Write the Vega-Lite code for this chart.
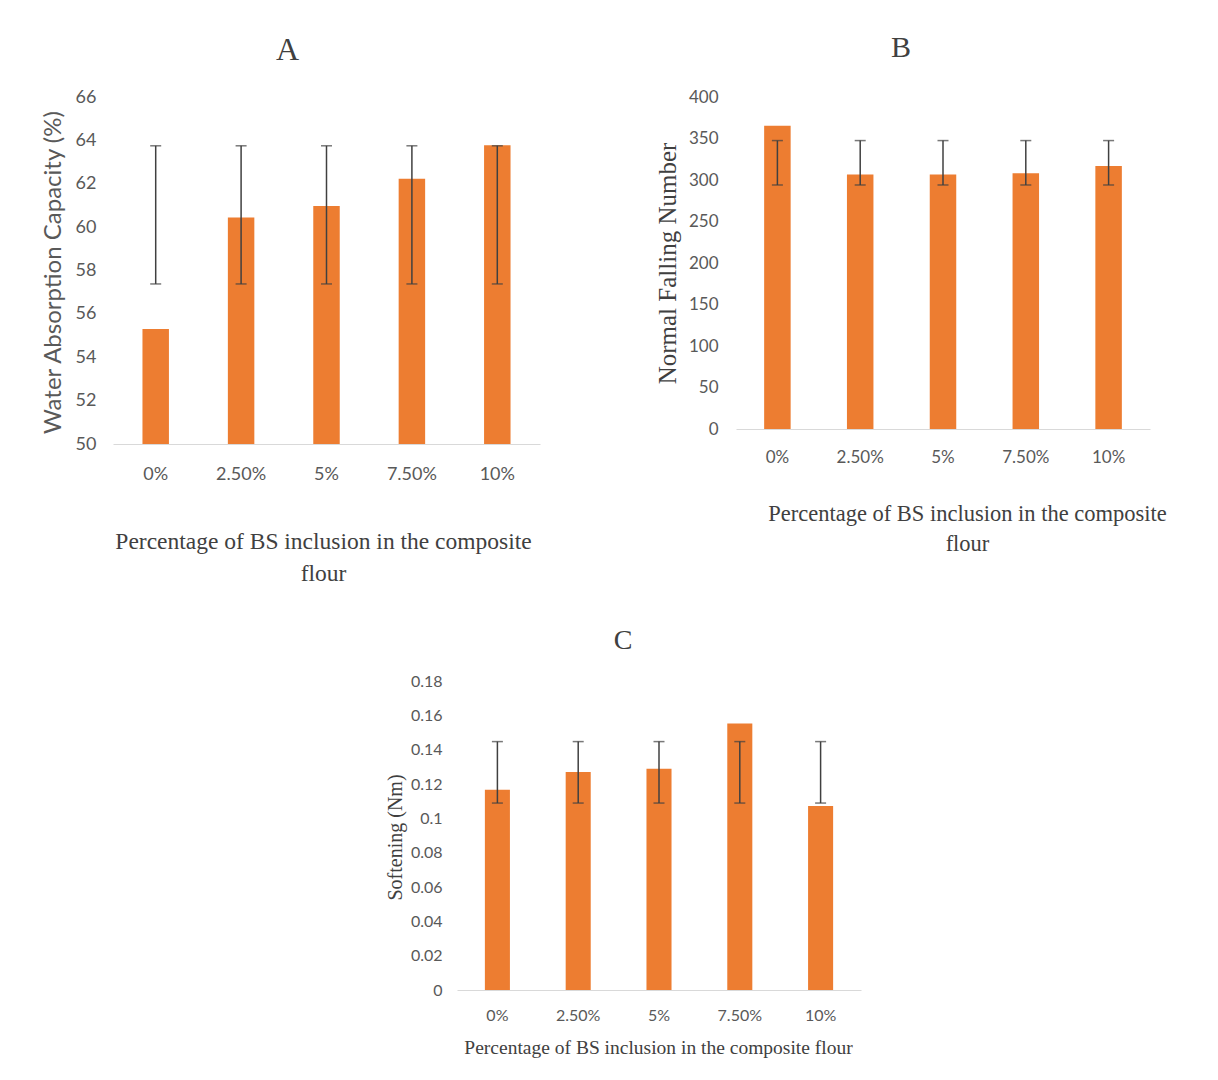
{
  "$schema": "https://vega.github.io/schema/vega-lite/v6.json",
  "padding": {"left": 41, "top": 33, "right": 5, "bottom": 5},
  "background": "white",
  "config": {
    "view": {"stroke": null},
    "axis": {"ticks": false, "grid": false, "labelColor": "#595959", "titleColor": "#404040", "domainColor": "#d9d9d9", "titleFontWeight": "normal", "labelOverlap": false},
    "axisY": {"domain": false},
    "axisX": {"labelAngle": 0}
  },
  "datasets": {
    "A": [
      {"p": "0%", "v": 55.3, "lo": 57.38, "hi": 63.75},
      {"p": "2.50%", "v": 60.44, "lo": 57.38, "hi": 63.75},
      {"p": "5%", "v": 60.97, "lo": 57.38, "hi": 63.75},
      {"p": "7.50%", "v": 62.23, "lo": 57.38, "hi": 63.75},
      {"p": "10%", "v": 63.78, "lo": 57.38, "hi": 63.75}
    ],
    "B": [
      {"p": "0%", "v": 365.5, "lo": 294, "hi": 347.5},
      {"p": "2.50%", "v": 306.6, "lo": 294, "hi": 347.5},
      {"p": "5%", "v": 306.6, "lo": 294, "hi": 347.5},
      {"p": "7.50%", "v": 308, "lo": 294, "hi": 347.5},
      {"p": "10%", "v": 316.8, "lo": 294, "hi": 347.5}
    ],
    "C": [
      {"p": "0%", "v": 0.1167, "lo": 0.1089, "hi": 0.1447},
      {"p": "2.50%", "v": 0.127, "lo": 0.1089, "hi": 0.1447},
      {"p": "5%", "v": 0.1289, "lo": 0.1089, "hi": 0.1447},
      {"p": "7.50%", "v": 0.1553, "lo": 0.1089, "hi": 0.1447},
      {"p": "10%", "v": 0.1072, "lo": 0.1089, "hi": 0.1447}
    ]
  },
  "vconcat": [
    {
      "hconcat": [
        {
          "width": 427,
          "height": 347,
          "title": {"text": "A", "font": "Liberation Serif", "fontSize": 32, "fontWeight": "normal", "color": "#404040", "frame": "group", "anchor": "middle", "baseline": "middle", "offset": 6, "dx": -39},
          "data": {"name": "A"},
          "encoding": {
            "x": {"field": "p", "type": "nominal", "sort": ["0%", "2.50%", "5%", "7.50%", "10%"],
              "scale": {"paddingInner": 0.69, "paddingOuter": 0.345},
              "axis": {"title": ["Percentage of BS inclusion in the composite", "flour"], "titleFont": "Liberation Serif", "titleFontSize": 23.5, "titleLineHeight": 32, "titleX": 210, "titleY": 85, "titleBaseline": "top", "titleAlign": "center", "labelFont": "Lato", "labelFontSize": 18, "labelPadding": 21}}
          },
          "layer": [
            {"mark": {"type": "bar", "color": "#ED7D31"},
              "encoding": {"y": {"field": "v", "type": "quantitative", "scale": {"domain": [50, 66]},
                "axis": {"values": [50, 52, 54, 56, 58, 60, 62, 64, 66], "labelOverlap": false, "labelFont": "Lato", "labelFontSize": 18, "labelPadding": 17, "title": "Water Absorption Capacity (%)", "titleFont": "Lato", "titleFontSize": 24, "titleColor": "#595959", "titleX": -60, "titleY": 175, "titleAngle": -90, "titleBaseline": "middle", "titleAlign": "center"}},
                "y2": {"datum": 50}}},
            {"mark": {"type": "rule", "color": "#404040", "strokeWidth": 1.5},
              "encoding": {"y": {"field": "lo", "type": "quantitative",
                "axis": {"values": [50, 52, 54, 56, 58, 60, 62, 64, 66], "labelOverlap": false, "labelFont": "Lato", "labelFontSize": 18, "labelPadding": 17, "title": "Water Absorption Capacity (%)", "titleFont": "Lato", "titleFontSize": 24, "titleColor": "#595959", "titleX": -60, "titleY": 175, "titleAngle": -90, "titleBaseline": "middle", "titleAlign": "center"}},
                "y2": {"field": "hi"}}},
            {"mark": {"type": "tick", "color": "#404040", "size": 11, "thickness": 1.5, "orient": "horizontal"},
              "encoding": {"y": {"field": "lo", "type": "quantitative",
                "axis": {"values": [50, 52, 54, 56, 58, 60, 62, 64, 66], "labelOverlap": false, "labelFont": "Lato", "labelFontSize": 18, "labelPadding": 17, "title": "Water Absorption Capacity (%)", "titleFont": "Lato", "titleFontSize": 24, "titleColor": "#595959", "titleX": -60, "titleY": 175, "titleAngle": -90, "titleBaseline": "middle", "titleAlign": "center"}}}},
            {"mark": {"type": "tick", "color": "#404040", "size": 11, "thickness": 1.5, "orient": "horizontal"},
              "encoding": {"y": {"field": "hi", "type": "quantitative",
                "axis": {"values": [50, 52, 54, 56, 58, 60, 62, 64, 66], "labelOverlap": false, "labelFont": "Lato", "labelFontSize": 18, "labelPadding": 17, "title": "Water Absorption Capacity (%)", "titleFont": "Lato", "titleFontSize": 24, "titleColor": "#595959", "titleX": -60, "titleY": 175, "titleAngle": -90, "titleBaseline": "middle", "titleAlign": "center"}}}}
          ]
        },
        {
          "width": 414,
          "height": 332,
          "title": {"text": "B", "font": "Liberation Serif", "fontSize": 30, "fontWeight": "normal", "color": "#404040", "frame": "group", "anchor": "middle", "baseline": "middle", "offset": 10, "dx": -42},
          "data": {"name": "B"},
          "encoding": {
            "x": {"field": "p", "type": "nominal", "sort": ["0%", "2.50%", "5%", "7.50%", "10%"],
              "scale": {"paddingInner": 0.68, "paddingOuter": 0.34},
              "axis": {"title": ["Percentage of BS inclusion in the composite", "flour"], "titleFont": "Liberation Serif", "titleFontSize": 22.5, "titleLineHeight": 30, "titleX": 231, "titleY": 73, "titleBaseline": "top", "titleAlign": "center", "labelFont": "Lato", "labelFontSize": 17, "labelPadding": 20}}
          },
          "layer": [
            {"mark": {"type": "bar", "color": "#ED7D31"},
              "encoding": {"y": {"field": "v", "type": "quantitative", "scale": {"domain": [0, 400]},
                "axis": {"values": [0, 50, 100, 150, 200, 250, 300, 350, 400], "labelOverlap": false, "labelFont": "Lato", "labelFontSize": 17, "labelPadding": 18, "title": "Normal Falling Number", "titleFont": "Liberation Serif", "titleFontSize": 25, "titleX": -69, "titleY": 166, "titleAngle": -90, "titleBaseline": "middle", "titleAlign": "center"}}}},
            {"mark": {"type": "rule", "color": "#404040", "strokeWidth": 1.5},
              "encoding": {"y": {"field": "lo", "type": "quantitative",
                "axis": {"values": [0, 50, 100, 150, 200, 250, 300, 350, 400], "labelOverlap": false, "labelFont": "Lato", "labelFontSize": 17, "labelPadding": 18, "title": "Normal Falling Number", "titleFont": "Liberation Serif", "titleFontSize": 25, "titleX": -69, "titleY": 166, "titleAngle": -90, "titleBaseline": "middle", "titleAlign": "center"}},
                "y2": {"field": "hi"}}},
            {"mark": {"type": "tick", "color": "#404040", "size": 11, "thickness": 1.5, "orient": "horizontal"},
              "encoding": {"y": {"field": "lo", "type": "quantitative",
                "axis": {"values": [0, 50, 100, 150, 200, 250, 300, 350, 400], "labelOverlap": false, "labelFont": "Lato", "labelFontSize": 17, "labelPadding": 18, "title": "Normal Falling Number", "titleFont": "Liberation Serif", "titleFontSize": 25, "titleX": -69, "titleY": 166, "titleAngle": -90, "titleBaseline": "middle", "titleAlign": "center"}}}},
            {"mark": {"type": "tick", "color": "#404040", "size": 11, "thickness": 1.5, "orient": "horizontal"},
              "encoding": {"y": {"field": "hi", "type": "quantitative",
                "axis": {"values": [0, 50, 100, 150, 200, 250, 300, 350, 400], "labelOverlap": false, "labelFont": "Lato", "labelFontSize": 17, "labelPadding": 18, "title": "Normal Falling Number", "titleFont": "Liberation Serif", "titleFontSize": 25, "titleX": -69, "titleY": 166, "titleAngle": -90, "titleBaseline": "middle", "titleAlign": "center"}}}}
          ]
        }
      ],
      "bounds": "flush",
      "spacing": 196
    },
    {
      "hconcat": [
        {
          "width": 324,
          "height": 309,
          "data": {"values": []},
          "mark": {"type": "point", "opacity": 0},
          "encoding": {}
        },
        {
          "width": 404,
          "height": 309,
          "title": {"text": "C", "font": "Liberation Serif", "fontSize": 28, "fontWeight": "normal", "color": "#404040", "frame": "group", "anchor": "middle", "baseline": "middle", "offset": 4, "dx": -36},
          "data": {"name": "C"},
          "encoding": {
            "x": {"field": "p", "type": "nominal", "sort": ["0%", "2.50%", "5%", "7.50%", "10%"],
              "scale": {"paddingInner": 0.69, "paddingOuter": 0.345},
              "axis": {"title": "Percentage of BS inclusion in the composite flour", "titleFont": "Liberation Serif", "titleFontSize": 19.5, "titleX": 201, "titleY": 48, "titleBaseline": "top", "titleAlign": "center", "labelFont": "Lato", "labelFontSize": 16, "labelPadding": 17}}
          },
          "layer": [
            {"mark": {"type": "bar", "color": "#ED7D31"},
              "encoding": {"y": {"field": "v", "type": "quantitative", "scale": {"domain": [0, 0.18]},
                "axis": {"values": [0, 0.02, 0.04, 0.06, 0.08, 0.1, 0.12, 0.14, 0.16, 0.18], "labelOverlap": false, "format": ".2~f", "labelFont": "Lato", "labelFontSize": 16, "labelPadding": 15, "title": "Softening (Nm)", "titleFont": "Liberation Serif", "titleFontSize": 20, "titleX": -62, "titleY": 156, "titleAngle": -90, "titleBaseline": "middle", "titleAlign": "center"}}}},
            {"mark": {"type": "rule", "color": "#404040", "strokeWidth": 1.5},
              "encoding": {"y": {"field": "lo", "type": "quantitative",
                "axis": {"values": [0, 0.02, 0.04, 0.06, 0.08, 0.1, 0.12, 0.14, 0.16, 0.18], "labelOverlap": false, "format": ".2~f", "labelFont": "Lato", "labelFontSize": 16, "labelPadding": 15, "title": "Softening (Nm)", "titleFont": "Liberation Serif", "titleFontSize": 20, "titleX": -62, "titleY": 156, "titleAngle": -90, "titleBaseline": "middle", "titleAlign": "center"}},
                "y2": {"field": "hi"}}},
            {"mark": {"type": "tick", "color": "#404040", "size": 11, "thickness": 1.5, "orient": "horizontal"},
              "encoding": {"y": {"field": "lo", "type": "quantitative",
                "axis": {"values": [0, 0.02, 0.04, 0.06, 0.08, 0.1, 0.12, 0.14, 0.16, 0.18], "labelOverlap": false, "format": ".2~f", "labelFont": "Lato", "labelFontSize": 16, "labelPadding": 15, "title": "Softening (Nm)", "titleFont": "Liberation Serif", "titleFontSize": 20, "titleX": -62, "titleY": 156, "titleAngle": -90, "titleBaseline": "middle", "titleAlign": "center"}}}},
            {"mark": {"type": "tick", "color": "#404040", "size": 11, "thickness": 1.5, "orient": "horizontal"},
              "encoding": {"y": {"field": "hi", "type": "quantitative",
                "axis": {"values": [0, 0.02, 0.04, 0.06, 0.08, 0.1, 0.12, 0.14, 0.16, 0.18], "labelOverlap": false, "format": ".2~f", "labelFont": "Lato", "labelFontSize": 16, "labelPadding": 15, "title": "Softening (Nm)", "titleFont": "Liberation Serif", "titleFontSize": 20, "titleX": -62, "titleY": 156, "titleAngle": -90, "titleBaseline": "middle", "titleAlign": "center"}}}}
          ]
        }
      ],
      "bounds": "flush",
      "spacing": 20
    }
  ],
  "bounds": "flush",
  "spacing": 584
}
